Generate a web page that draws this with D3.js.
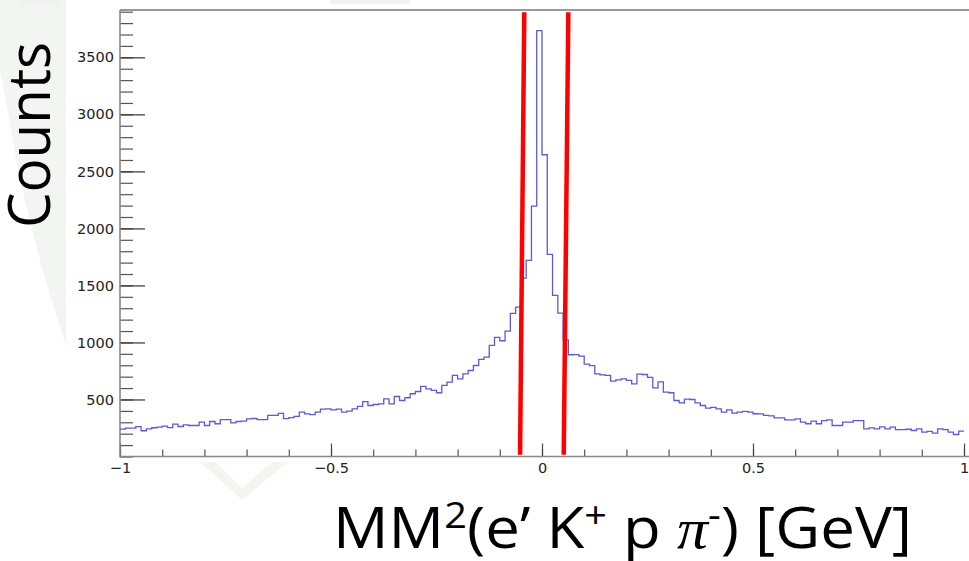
<!DOCTYPE html>
<html>
<head>
<meta charset="utf-8">
<title>MM2 (e' K+ p pi-) counts</title>
<script src="https://d3js.org/d3.v7.min.js"></script>
<style>
  body { margin: 0; background: #fff; overflow: hidden; }
  svg { display: block; }
  .tick text { font-family: "DejaVu Sans", sans-serif; font-size: 14.5px; fill: #222; }
</style>
</head>
<body>
<div id="chart"></div>
<script>

// histogram, 160 bins between -1 and 1
const xRange = [-1, 1];
const counts = [
  240, 248, 248, 262, 226, 243, 252, 257, 266, 254,
  283, 263, 278, 272, 272, 301, 272, 307, 287, 324,
  324, 295, 307, 310, 330, 333, 324, 324, 360, 360,
  378, 332, 340, 352, 389, 374, 368, 389, 415, 418,
  409, 415, 389, 398, 418, 439, 482, 447, 456, 462,
  506, 462, 526, 491, 515, 550, 570, 614, 593, 579,
  559, 623, 652, 711, 681, 725, 754, 798, 852, 872,
  974, 1044, 1015, 1100, 1255, 1310, 1564, 1719, 2196, 3735,
  2646, 1772, 1412, 1257, 1023, 892, 893, 880, 810, 797,
  725, 716, 711, 661, 672, 681, 667, 637, 722, 719,
  693, 602, 655, 564, 559, 491, 470, 503, 500, 471,
  447, 424, 430, 418, 389, 409, 380, 389, 395, 389,
  375, 374, 360, 356, 339, 339, 322, 322, 330, 301,
  287, 310, 287, 315, 322, 272, 272, 301, 301, 315,
  315, 243, 251, 243, 260, 243, 257, 236, 236, 239,
  228, 243, 213, 221, 205, 243, 236, 213, 193, 222
];

// axis ticks
const xMajor = [-1, -0.5, 0, 0.5, 1];
const xTickLabels = ["\u22121", "\u22120.5", "0", "0.5", "1"];
const yMajor = [500, 1000, 1500, 2000, 2500, 3000, 3500];
const yTickLabels = ["500", "1000", "1500", "2000", "2500", "3000", "3500"];

// selection cuts drawn in red: [x at bottom, x at top]
const cutLeft = [-0.052, -0.042];
const cutRight = [0.0515, 0.0624];
const cutCounts = [15, 3895];

const W = 969, H = 561;
const padL = 120, padR = 964, padT = 10, padB = 456.5;

const svg = d3.select("#chart")
  .append("svg")
  .attr("width", W)
  .attr("height", H);

// faint slide watermark behind the plot
svg.append("path")
  .attr("d", "M0,0 L66,0 L66,345 Q40,270 18,170 Q8,110 0,70 Z")
  .attr("fill", "#f3f5f3");
svg.append("path")
  .attr("d", "M200,462 L242,500 L288,462 L272,462 L242,488 L216,462 Z")
  .attr("fill", "#f3f5f3");
svg.append("rect").attr("x", 20).attr("y", 0).attr("width", 40).attr("height", 5).attr("fill", "#f1f1f1");
svg.append("rect").attr("x", 330).attr("y", 0).attr("width", 80).attr("height", 4).attr("fill", "#f1f1f1");

const x = d3.scaleLinear().domain(xRange).range([padL, padR]);
const y = d3.scaleLinear().domain([0, 3915]).range([padB, padT]);

const binW = (xRange[1] - xRange[0]) / counts.length;

// minor ticks
svg.append("g")
  .attr("transform", `translate(0,${padB})`)
  .call(d3.axisBottom(x).tickValues(d3.range(-10, 11).map(d => d / 10)).tickSize(-7).tickFormat(""))
  .call(g => g.select(".domain").remove())
  .call(g => g.selectAll("line").attr("stroke", "#555").attr("stroke-width", 1.2));

svg.append("g")
  .attr("transform", `translate(${padL},0)`)
  .call(d3.axisLeft(y).tickValues(d3.range(0, 3901, 100)).tickSize(-13).tickFormat(""))
  .call(g => g.select(".domain").remove())
  .call(g => g.selectAll("line").attr("stroke", "#555").attr("stroke-width", 1.2));

// major ticks with labels
svg.append("g")
  .attr("transform", `translate(0,${padB})`)
  .call(d3.axisBottom(x).tickValues(xMajor).tickSize(-13).tickPadding(6)
    .tickFormat((d, i) => xTickLabels[i]))
  .call(g => g.select(".domain").remove())
  .call(g => g.selectAll("line").attr("stroke", "#444").attr("stroke-width", 1.2));

svg.append("g")
  .attr("transform", `translate(${padL},0)`)
  .call(d3.axisLeft(y).tickValues(yMajor).tickSize(-25).tickPadding(6)
    .tickFormat((d, i) => yTickLabels[i]))
  .call(g => g.select(".domain").remove())
  .call(g => g.selectAll("line").attr("stroke", "#333").attr("stroke-width", 1.2));

// frame lines
svg.append("line")
  .attr("x1", padL).attr("x2", W).attr("y1", padT).attr("y2", padT)
  .attr("stroke", "#999").attr("stroke-width", 2);
svg.append("line")
  .attr("x1", padL).attr("x2", padL).attr("y1", padT).attr("y2", padB + 1)
  .attr("stroke", "#888").attr("stroke-width", 1.6);
svg.append("line")
  .attr("x1", padL).attr("x2", W).attr("y1", padB).attr("y2", padB)
  .attr("stroke", "#888").attr("stroke-width", 1.6);

// histogram outline
const pts = counts.map((c, i) => [xRange[0] + i * binW, c]);
pts.push([xRange[1], counts[counts.length - 1]]);

svg.append("path")
  .datum(pts)
  .attr("fill", "none")
  .attr("stroke", "#5b5bd4")
  .attr("stroke-width", 1.3)
  .attr("d", d3.line()
    .curve(d3.curveStepAfter)
    .x(d => x(d[0]))
    .y(d => y(d[1])));

// red cut lines
[cutLeft, cutRight].forEach(c => {
  svg.append("line")
    .attr("x1", x(c[0])).attr("y1", y(cutCounts[0]))
    .attr("x2", x(c[1])).attr("y2", y(cutCounts[1]))
    .attr("stroke", "#ff0000")
    .attr("stroke-width", 4.5);
});

// axis titles
svg.append("text")
  .attr("transform", "translate(50,135) rotate(-90)")
  .attr("text-anchor", "middle")
  .attr("textLength", 186)
  .attr("lengthAdjust", "spacingAndGlyphs")
  .style("font-family", "'Open Sans', sans-serif")
  .style("font-size", "58px")
  .attr("fill", "#000")
  .text("Counts");

const xt = svg.append("text")
  .attr("x", 333)
  .attr("y", 548)
  .attr("textLength", 579)
  .attr("lengthAdjust", "spacingAndGlyphs")
  .style("font-family", "'Open Sans', sans-serif")
  .style("font-size", "56px")
  .attr("fill", "#000");
xt.append("tspan").text("MM");
xt.append("tspan").attr("dy", -20).style("font-size", "36px").text("2");
xt.append("tspan").attr("dy", 20).text("(e\u2019 K");
xt.append("tspan").attr("dy", -20).style("font-size", "36px").text("+");
xt.append("tspan").attr("dy", 20).text(" p ");
xt.append("tspan")
  .style("font-family", "'Liberation Serif', serif")
  .style("font-style", "italic")
  .text("\u03c0");
xt.append("tspan").attr("dy", -20).style("font-size", "36px").text("-");
xt.append("tspan").attr("dy", 20).text(") [GeV]");

</script>
</body>
</html>
